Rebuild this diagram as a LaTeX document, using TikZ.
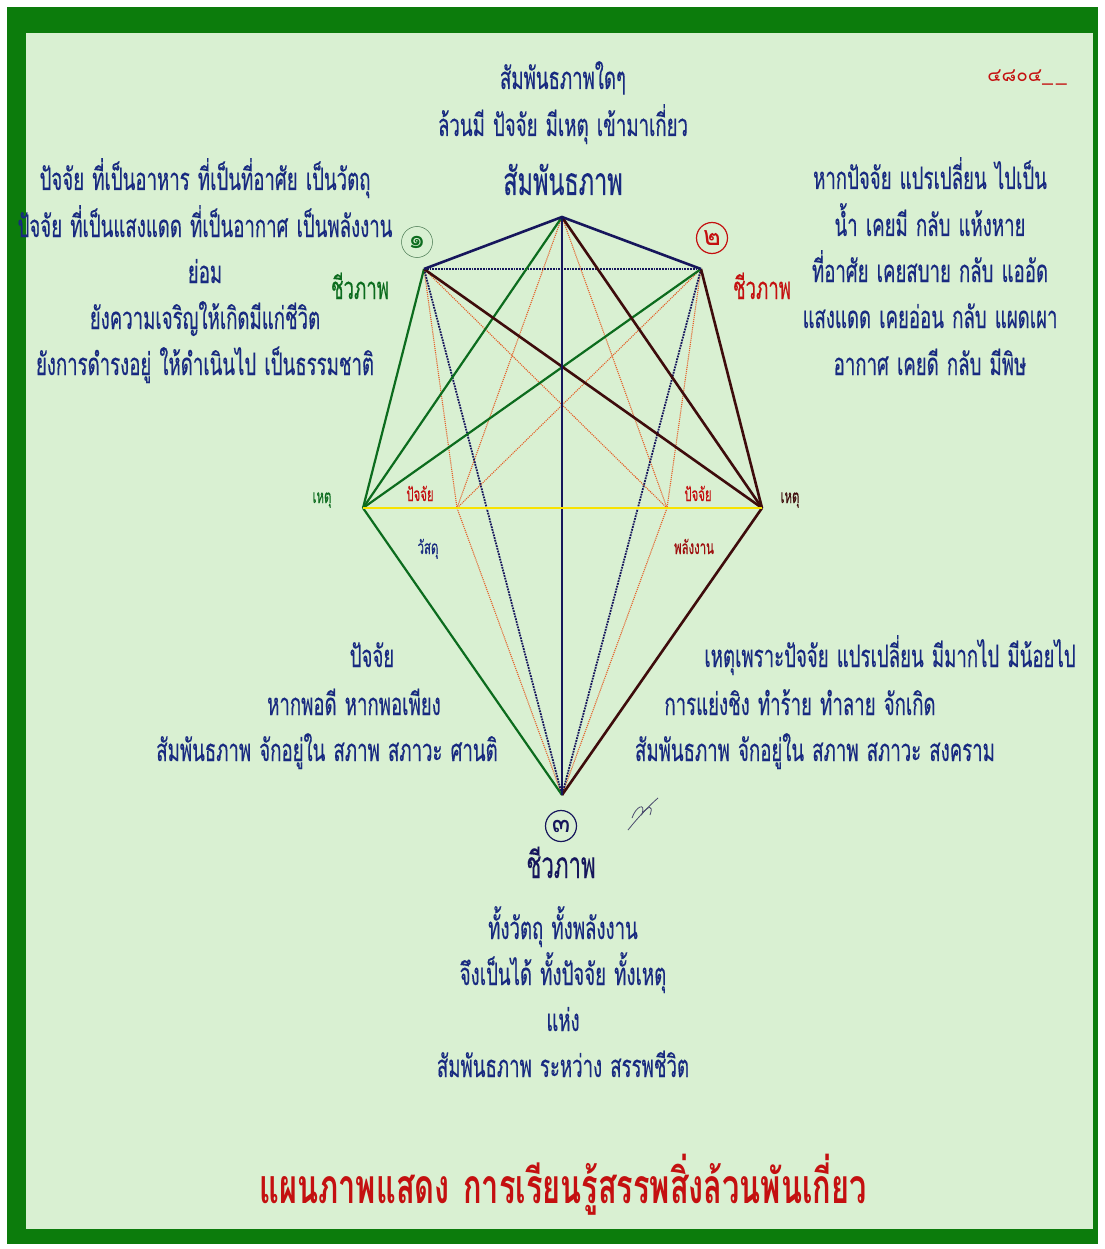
\documentclass[tikz,border=0pt]{standalone}
\usepackage{fontspec}
\newfontfamily\thaifont[Script=Thai,FakeStretch=0.6,WordSpace=1.3,FakeBold=0.3]{Loma}
\newfontfamily\thaititle[Script=Thai,FakeStretch=0.64,WordSpace=1.3]{Loma}
\newfontfamily\thaiplain[Script=Thai]{Loma}
\usetikzlibrary{positioning}
\definecolor{bggreen}{RGB}{217,240,210}
\definecolor{framegreen}{RGB}{12,124,12}
\definecolor{navyline}{RGB}{22,22,92}
\definecolor{navytext}{RGB}{24,42,128}
\definecolor{leafgreen}{RGB}{12,108,30}
\definecolor{darkbrown}{RGB}{62,12,12}
\definecolor{rust}{RGB}{228,96,40}
\definecolor{sunyellow}{RGB}{248,226,0}
\definecolor{deepred}{RGB}{196,16,16}

\begin{document}
\begin{tikzpicture}[x=1pt,y=-1pt,
    txt/.style={font=\thaifont\fontsize{31}{32}\selectfont, text=navytext, inner sep=0pt, anchor=base},
    bigtxt/.style={txt, font=\thaifont\fontsize{39}{40}\selectfont},
    small/.style={txt, font=\thaifont\fontsize{19}{20}\selectfont},
    numring/.style={circle, draw, minimum size=31pt, inner sep=0pt, font=\thaiplain\fontsize{27}{27}\selectfont},
    navythick/.style={navyline, line width=2.6pt},
    greenline/.style={leafgreen, line width=2.2pt},
    brownline/.style={darkbrown, line width=2.6pt},
    navydot/.style={navyline, line width=1.8pt, densely dotted},
    rustdot/.style={rust, line width=1.1pt, densely dotted}
]
\useasboundingbox (0,0) rectangle (1104,1249);
% frame and page
\fill[white] (0,0) rectangle (1104,1249);
\fill[framegreen] (7,7) rectangle (1098,1244);
\fill[bggreen] (26,33) rectangle (1093,1229);

% points of the figure
\coordinate (top) at (562,217);
\coordinate (lv) at (424,269);
\coordinate (rv) at (701,269);
\coordinate (lh) at (363,508);
\coordinate (rh) at (762,508);
\coordinate (pl) at (457,508);
\coordinate (pr) at (667,508);
\coordinate (bot) at (562,795);

% thin rust lines
\draw[rustdot] (top) -- (pl);
\draw[rustdot] (top) -- (pr);
\draw[rustdot] (lv) -- (pl) -- (bot);
\draw[rustdot] (rv) -- (pr) -- (bot);
\draw[rustdot] (lv) -- (pr);
\draw[rustdot] (rv) -- (pl);
\draw[rustdot] (lv) -- (rh);
\draw[rustdot] (rv) -- (lh);

% dotted navy lines
\draw[navydot] (lv) -- (rv);
\draw[navydot] (lv) -- (bot);
\draw[navydot] (rv) -- (bot);

% green side
\draw[greenline] (lh) -- (lv);
\draw[greenline] (lh) -- (top);
\draw[greenline] (lh) -- (rv);
\draw[greenline] (lh) -- (bot);

% brown side
\draw[brownline] (rh) -- (rv);
\draw[brownline] (rh) -- (top);
\draw[brownline] (rh) -- (lv);
\draw[brownline] (rh) -- (bot);

% navy frame of the top
\draw[navythick] (lv) -- (top) -- (rv);
\draw[navyline, line width=1.8pt] (top) -- (bot);

% yellow base
\draw[sunyellow, line width=2.8pt] (lh) -- (rh);

% labels on the figure
\node[small, text=leafgreen] (hetul) at (322,503) {เหตุ};
\node[small, text=darkbrown] (hetur) at (790,503) {เหตุ};
\node[small, text=deepred] (pjl) at (420,501) {ปัจจัย};
\node[small, text=deepred] (pjr) at (698,501) {ปัจจัย};
\node[small, text=navytext] (wasadu) at (428,554) {วัสดุ};
\node[small, text=deepred!80!black] (palang) at (694,554) {พลังงาน};

% numbered lives
\node[numring, draw=leafgreen!50!gray, text=leafgreen, line width=0.5pt] (one) at (417,242) {๑};
\node[numring, draw=deepred, text=deepred, line width=1.2pt] (two) at (712,238) {๒};
\node[numring, draw=navyline, text=navyline, line width=1.2pt] (three) at (561,826) {๓};
\node[txt, text=leafgreen] (lifel) at (360,299) {ชีวภาพ};
\node[txt, text=deepred] (lifer) at (762,299) {ชีวภาพ};
\node[bigtxt, text=navyline, font=\thaifont\fontsize{37}{38}\selectfont] (lifeb) at (561,878) {ชีวภาพ};

% top heading
\node[txt] (h1) at (563,89) {สัมพันธภาพใดๆ};
\node[txt] (h2) at (563,136) {ล้วนมี ปัจจัย มีเหตุ เข้ามาเกี่ยว};
\node[bigtxt] (h3) at (563,195) {สัมพันธภาพ};
\node[font=\thaiplain\fontsize{19}{20}\selectfont, text=deepred, anchor=base, inner sep=0pt] (code) at (1027,82) {๔๘๐๔\_\,\_};

% left block
\node[txt] (l1) at (205,190) {ปัจจัย ที่เป็นอาหาร ที่เป็นที่อาศัย เป็นวัตถุ};
\node[txt] (l2) at (205,237) {ปัจจัย ที่เป็นแสงแดด ที่เป็นอากาศ เป็นพลังงาน};
\node[txt] (l3) at (205,283) {ย่อม};
\node[txt] (l4) at (205,329) {ยังความเจริญให้เกิดมีแก่ชีวิต};
\node[txt] (l5) at (205,375) {ยังการดำรงอยู่ ให้ดำเนินไป เป็นธรรมชาติ};

% right block
\node[txt] (r1) at (930,189) {หากปัจจัย แปรเปลี่ยน ไปเป็น};
\node[txt] (r2) at (930,236) {น้ำ เคยมี กลับ แห้งหาย};
\node[txt] (r3) at (930,282) {ที่อาศัย เคยสบาย กลับ แออัด};
\node[txt] (r4) at (930,328) {แสงแดด เคยอ่อน กลับ แผดเผา};
\node[txt] (r5) at (930,375) {อากาศ เคยดี กลับ มีพิษ};

% lower left
\node[txt] (ll1) at (372,667) {ปัจจัย};
\node[txt] (ll2) at (354,715) {หากพอดี หากพอเพียง};
\node[txt] (ll3) at (327,761) {สัมพันธภาพ จักอยู่ใน สภาพ สภาวะ ศานติ};

% lower right
\node[txt] (lr1) at (890,667) {เหตุเพราะปัจจัย แปรเปลี่ยน มีมากไป มีน้อยไป};
\node[txt] (lr2) at (800,715) {การแย่งชิง ทำร้าย ทำลาย จักเกิด};
\node[txt] (lr3) at (815,761) {สัมพันธภาพ จักอยู่ใน สภาพ สภาวะ สงคราม};

% bottom block
\node[txt] (b1) at (563,939) {ทั้งวัตถุ ทั้งพลังงาน};
\node[txt] (b2) at (563,985) {จึงเป็นได้ ทั้งปัจจัย ทั้งเหตุ};
\node[txt] (b3) at (563,1031) {แห่ง};
\node[txt] (b4) at (563,1077) {สัมพันธภาพ ระหว่าง สรรพชีวิต};

% signature
\draw[navyline!50!gray, line width=0.8pt] (628,830) .. controls (640,815) and (650,805) .. (658,798);
\draw[navyline!50!gray, line width=0.8pt] (632,818) .. controls (636,806) and (646,802) .. (642,814) .. controls (648,806) and (654,804) .. (650,815);

% title
\node[font=\thaititle\bfseries\fontsize{48}{50}\selectfont, text=deepred, anchor=base, inner sep=0pt] (title) at (563,1203) {แผนภาพแสดง การเรียนรู้สรรพสิ่งล้วนพันเกี่ยว};
\end{tikzpicture}
\end{document}
